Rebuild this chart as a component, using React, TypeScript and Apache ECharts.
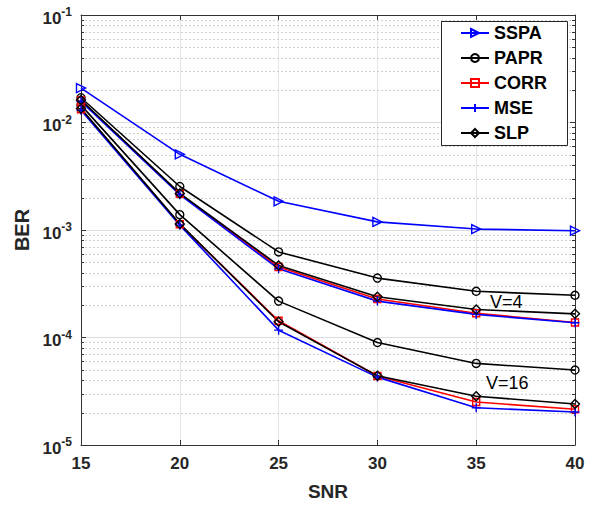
import React, { useEffect, useRef } from "react";
import * as echarts from "echarts";

const snr = [15, 20, 25, 30, 35, 40];
const sspa = [0.0209, 0.00506, 0.00185, 0.00119, 0.00102, 0.000985];
const papr4 = [0.017, 0.00254, 0.000625, 0.000357, 0.000269, 0.000247];
const corr4 = [0.016, 0.00217, 0.000452, 0.000228, 0.000168, 0.000138];
const mse4 = [0.0157, 0.00213, 0.000435, 0.000218, 0.000164, 0.000137];
const slp4 = [0.0162, 0.00219, 0.000468, 0.000239, 0.000182, 0.000166];
const papr16 = [0.0145, 0.00139, 0.000218, 0.0000898, 0.0000574, 0.0000498];
const corr16 = [0.0133, 0.00113, 0.000143, 0.0000438, 0.0000251, 0.0000215];
const mse16 = [0.013, 0.00111, 0.000117, 0.0000428, 0.0000222, 0.0000203];
const slp16 = [0.0135, 0.00114, 0.00014, 0.000044, 0.0000284, 0.0000241];

const legendNames = ["SSPA", "PAPR", "CORR", "MSE", "SLP"];
const decades = [1e-5, 1e-4, 1e-3, 1e-2];
const minorMultipliers = [2, 3, 4, 5, 6, 7, 8, 9];
const annotations = [
  { text: "V=4", left: 490, top: 293 },
  { text: "V=16", left: 486, top: 374 },
];

const FONT = "'Liberation Sans', Arial, Helvetica, sans-serif";

const BLUE = "#0000ff";
const BLACK = "#000000";
const RED = "#ff0000";

const triRight = "path://M0,0 L10,5 L0,10 Z";
const plus = "path://M5,0 L5,10 M0,5 L10,5";

function pairs(ys: number[]) {
  return snr.map((x, i) => [x, ys[i]]);
}

export default function App() {
  const ref = useRef<HTMLDivElement>(null);
  useEffect(() => {
    if (!ref.current) return;
    const chart = echarts.init(ref.current, undefined, { renderer: "svg" });

    const minor: number[] = [];
    decades.forEach((d) => minorMultipliers.forEach((m) => minor.push(m * d)));

    const xMin = snr[0];
    const xMax = snr[snr.length - 1];

    const mk = (
      name: string,
      ys: number[],
      color: string,
      symbol: string,
      size: number
    ) => ({
      name,
      type: "line",
      data: pairs(ys),
      symbol,
      symbolSize: size,
      showSymbol: true,
      z: 3,
      lineStyle: { color, width: 1.6 },
      itemStyle: { color: "rgba(255,255,255,0)", borderColor: color, borderWidth: 1.4 },
      emphasis: { disabled: true },
    });

    const axisColor = "#333333";
    const labelStyle = {
      fontSize: 17,
      fontWeight: "bold" as const,
      color: "#262626",
      fontFamily: FONT,
    };

    const option: any = {
      animation: false,
      grid: { left: 81, right: 21, top: 15, bottom: 59 },
      legend: {
        data: legendNames,
        orient: "vertical",
        left: 441,
        top: 21,
        z: 20,
        padding: [3, 19, 3, 19],
        itemWidth: 28,
        itemHeight: 10,
        itemGap: 7,
        textStyle: { fontSize: 18, lineHeight: 18, fontWeight: "bold", color: "#000", fontFamily: FONT },
        selectedMode: false,
      },
      xAxis: [
        {
          type: "value",
          min: 15,
          max: 40,
          interval: 5,
          axisLine: { show: true, onZero: false, lineStyle: { color: axisColor } },
          axisTick: { show: true, inside: true, length: 5, lineStyle: { color: axisColor } },
          axisLabel: { ...labelStyle, margin: 10 },
          splitLine: { show: true, lineStyle: { color: "#e3e3e3", width: 1 } },
          name: "SNR",
          nameLocation: "middle",
          nameGap: 37,
          nameTextStyle: { fontSize: 19, fontWeight: "bold", color: "#262626", fontFamily: FONT },
        },
        {
          type: "value",
          position: "top",
          min: 15,
          max: 40,
          interval: 5,
          axisLine: { show: true, onZero: false, lineStyle: { color: axisColor } },
          axisTick: { show: true, inside: true, length: 5, lineStyle: { color: axisColor } },
          axisLabel: { show: false },
          splitLine: { show: false },
        },
      ],
      yAxis: [
        {
          type: "log",
          logBase: 10,
          min: 1e-5,
          max: 1e-1,
          axisLine: { show: true, onZero: false, lineStyle: { color: axisColor } },
          axisTick: { show: true, inside: true, length: 5, lineStyle: { color: axisColor } },
          axisLabel: {
            margin: 9,
            formatter: (v: number) => `{b|10}{s|${Math.round(Math.log10(v))}}`,
            rich: {
              b: { fontSize: 17, fontWeight: "bold", color: "#262626", fontFamily: FONT, padding: [6, 0, 0, 0] },
              s: { fontSize: 12, fontWeight: "bold", color: "#262626", fontFamily: FONT, padding: [0, 0, 6, 0] },
            },
          },
          splitLine: { show: true, lineStyle: { color: "#dcdcdc", width: 1 } },
          name: "BER",
          nameLocation: "middle",
          nameGap: 48,
          nameTextStyle: { fontSize: 20, fontWeight: "bold", color: "#262626", fontFamily: FONT },
        },
        {
          type: "log",
          logBase: 10,
          min: 1e-5,
          max: 1e-1,
          position: "right",
          axisLine: { show: true, onZero: false, lineStyle: { color: axisColor } },
          axisTick: { show: true, inside: true, length: 5, lineStyle: { color: axisColor } },
          axisLabel: { show: false },
          splitLine: { show: false },
        },
      ],
      series: [
        {
          name: "minorGrid",
          type: "custom",
          silent: true,
          z: 1,
          data: minor.map((v) => [xMin, v]),
          renderItem: (params: any, api: any) => {
            const v = api.value(1);
            const p1 = api.coord([xMin, v]);
            const p2 = api.coord([xMax, v]);
            const y = Math.round(p1[1]) + 0.5;
            return {
              type: "group",
              children: [
                {
                  type: "line",
                  shape: { x1: p1[0], y1: y, x2: p2[0], y2: y },
                  style: { stroke: "#cfcfcf", lineDash: [2, 2], lineWidth: 1 },
                },
                {
                  type: "line",
                  shape: { x1: p1[0], y1: y, x2: p1[0] + 3, y2: y },
                  style: { stroke: axisColor, lineWidth: 1 },
                },
                {
                  type: "line",
                  shape: { x1: p2[0] - 3, y1: y, x2: p2[0], y2: y },
                  style: { stroke: axisColor, lineWidth: 1 },
                },
              ],
            };
          },
        },
        mk("SSPA", sspa, BLUE, triRight, 9),
        mk("PAPR", papr4, BLACK, "circle", 8),
        mk("PAPR", papr16, BLACK, "circle", 8),
        mk("CORR", corr4, RED, "rect", 7),
        mk("CORR", corr16, RED, "rect", 7),
        mk("MSE", mse4, BLUE, plus, 9),
        mk("MSE", mse16, BLUE, plus, 9),
        mk("SLP", slp4, BLACK, "diamond", 9),
        mk("SLP", slp16, BLACK, "diamond", 9),
      ],
      graphic: [
        {
          type: "rect",
          z: 10,
          shape: { x: 441.5, y: 21.5, width: 126, height: 124 },
          style: { fill: "#ffffff", stroke: "#262626", lineWidth: 1 },
          silent: true,
        },
        ...annotations.map((a) => ({
          type: "text",
          left: a.left,
          top: a.top,
          z: 100,
          style: { text: a.text, fontSize: 18, fontFamily: FONT, fill: "#000" },
        })),
      ],
    };

    chart.setOption(option);
    return () => chart.dispose();
  }, []);

  return (
    <div
      ref={ref}
      style={{ position: "fixed", left: 0, top: 0, width: 596, height: 506, background: "#fff" }}
    />
  );
}
